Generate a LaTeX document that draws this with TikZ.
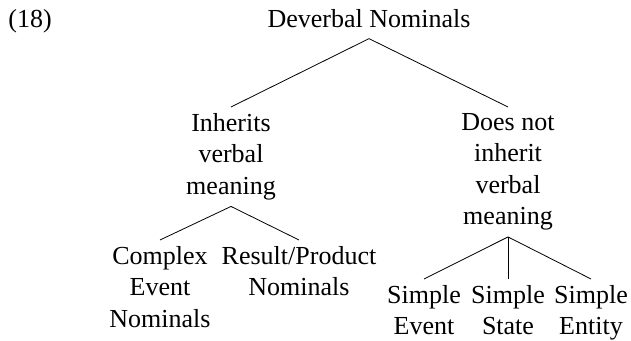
\documentclass[tikz,border=0pt]{standalone}
\usepackage{fontspec}
\setmainfont{Liberation Serif}
\usepackage{tikz}

\begin{document}
\begin{tikzpicture}[line join=bevel,
  every node/.style={font=\fontsize{13pt}{15.75pt}\selectfont,align=center,inner xsep=0pt,inner ysep=3pt},
  tnode/.style={anchor=north,draw=none},
  ]
%%
\useasboundingbox (0pt,0pt) rectangle (315.5pt,170.5pt);
\node (num) at (4pt,156.5pt) [anchor=base west,inner sep=0pt] {(18)};
\node (root) at (184.5pt,156.5pt) [anchor=base,inner ysep=5pt] {Deverbal Nominals};
  \node (inh) at (115.5pt,117pt) [tnode] {Inherits\\ verbal\\ meaning};
  \node (noinh) at (254pt,117pt) [tnode] {Does not\\ inherit\\ verbal\\ meaning};
  \node (cen) at (80pt,50.5pt) [tnode] {Complex\\ Event\\ Nominals};
  \node (rpn) at (149.5pt,50.5pt) [tnode] {Result/Product\\ Nominals};
  \node (sev) at (212pt,31pt) [tnode] {Simple\\ Event};
  \node (sst) at (254pt,31pt) [tnode] {Simple\\ State};
  \node (sen) at (295.5pt,31pt) [tnode] {Simple\\ Entity};
  \draw [black] (root.south) -- (inh.north);
  \draw [black] (root.south) -- (noinh.north);
  \draw [black] (inh.south) -- (cen.north);
  \draw [black] (inh.south) -- (rpn.north);
  \draw [black] (noinh.south) -- (sev.north);
  \draw [black] (noinh.south) -- (sst.north);
  \draw [black] (noinh.south) -- (sen.north);
%
\end{tikzpicture}
\end{document}
